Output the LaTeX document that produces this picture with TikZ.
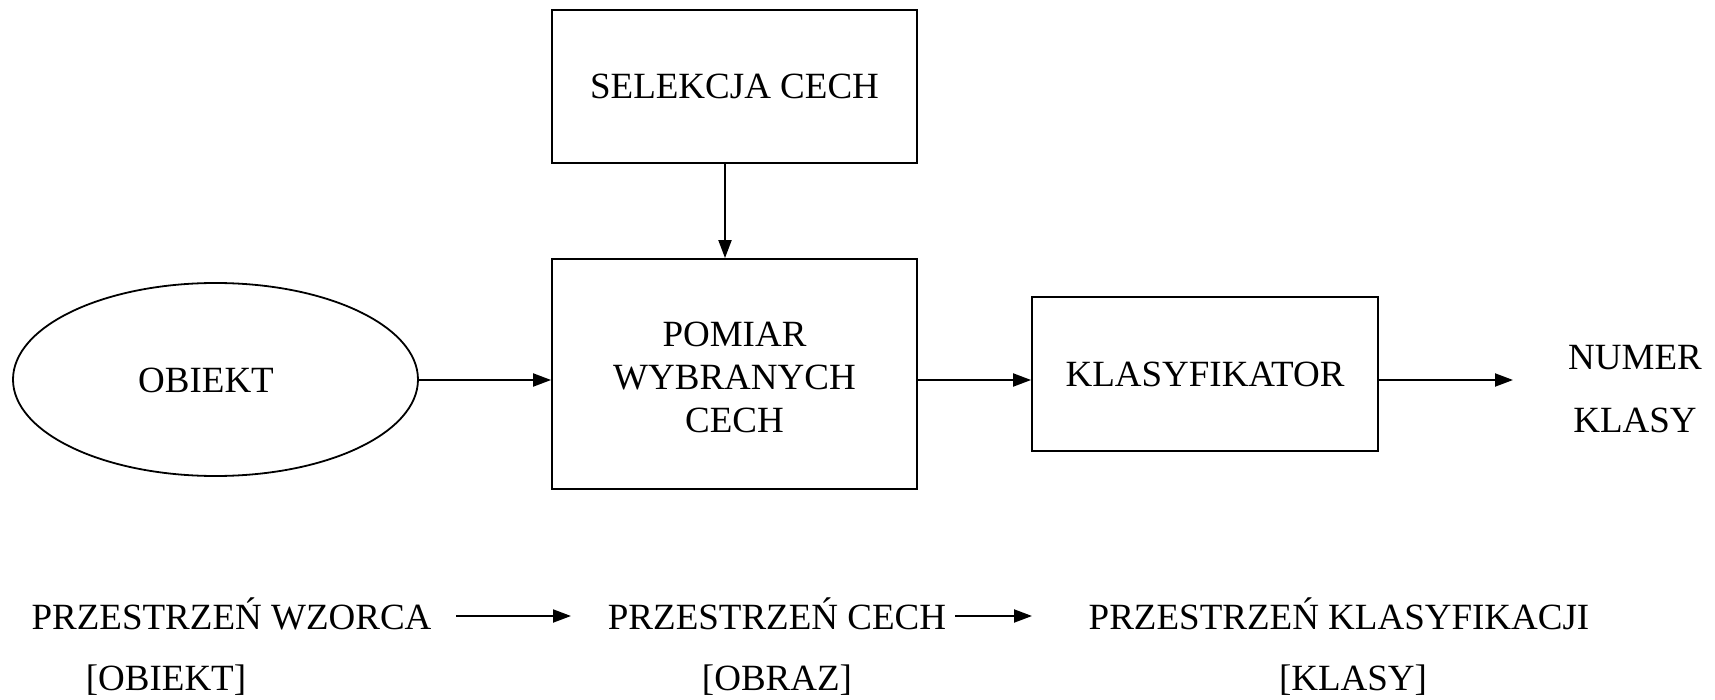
\documentclass[tikz,border=0pt]{standalone}
\usepackage{fontspec}
\setmainfont{Liberation Serif}
\usetikzlibrary{arrows.meta,shapes.geometric}
\begin{document}
\begin{tikzpicture}[x=1pt,y=-1pt,
  every node/.style={font=\fontsize{37}{43}\selectfont, inner sep=0pt},
  blok/.style={draw, line width=1.8pt, rectangle, align=center},
  owal/.style={draw, line width=1.8pt, ellipse},
  strz/.style={line width=2pt, -{Triangle[length=18pt,width=13pt]}},
  napis/.style={align=center}]
\useasboundingbox (0,0) rectangle (1715,700);

% blocks of the recognition chain
\node[blok, minimum width=365, minimum height=153] (sel) at (734.5,86.5) {SELEKCJA CECH};
\node[blok, minimum width=365, minimum height=230] (pom) at (734.5,374) {};
\node[napis] (pomt) at (734.5,377) {POMIAR\\WYBRANYCH\\CECH};
\node[owal, minimum width=405, minimum height=193] (obj) at (215.5,379.5) {};
\node (objt) at (206,380) {OBIEKT};
\node[blok, minimum width=346, minimum height=154] (kl) at (1205,374) {KLASYFIKATOR};
\node[napis, font=\fontsize{37}{63}\selectfont] (num) at (1635,389) {NUMER\\KLASY};
\coordinate (wyj) at (1513,380);

% connectors
\draw[strz] (sel.south -| 725,0) -- (pom.north -| 725,0);
\draw[strz] (obj.east |- 0,380) -- (pom.west |- 0,380);
\draw[strz] (pom.east |- 0,380) -- (kl.west |- 0,380);
\draw[strz] (kl.east |- 0,380) -- (wyj);

% spaces
\node (p1) at (231.5,614) {PRZESTRZEŃ WZORCA};
\node (p2) at (777,614) {PRZESTRZEŃ CECH};
\node (p3) at (1339,614) {PRZESTRZEŃ KLASYFIKACJI};
\node (o1) at (166,680) {[OBIEKT]};
\node (o2) at (777,680) {[OBRAZ]};
\node (o3) at (1353,680) {[KLASY]};
\coordinate (a1s) at (456,616);
\coordinate (a1e) at (571,616);
\coordinate (a2s) at (955,616);
\coordinate (a2e) at (1032,616);
\draw[strz] (a1s) -- (a1e);
\draw[strz] (a2s) -- (a2e);
\end{tikzpicture}
\end{document}
